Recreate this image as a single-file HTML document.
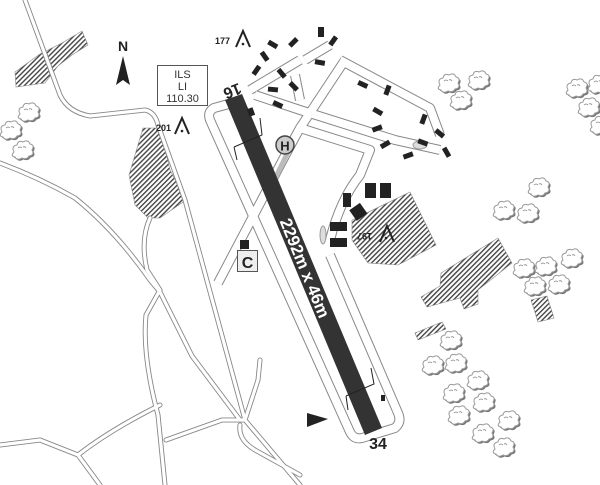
<!DOCTYPE html>
<html><head><meta charset="utf-8"><style>
html,body{margin:0;padding:0;background:#fff;}
svg{display:block;font-family:"Liberation Sans",sans-serif;}
</style></head><body>
<svg width="600" height="485" viewBox="0 0 600 485" xmlns="http://www.w3.org/2000/svg">
<defs>
<pattern id="h" width="3.5" height="3.5" patternUnits="userSpaceOnUse" patternTransform="rotate(45)">
<rect width="3.5" height="3.5" fill="#fff"/><rect width="1.4" height="3.5" fill="#444"/></pattern>
<g id="t">
<path d="M-8,2 q-3,-6 3,-7 q1,-5 6,-3 q5,-3 7,2 q5,1 2,6 q3,5 -3,6 q-2,4 -7,2 q-5,3 -7,-1 q-5,-1 -1,-5z" fill="#777" transform="translate(1.5,1.5)"/>
<path d="M-8,2 q-3,-6 3,-7 q1,-5 6,-3 q5,-3 7,2 q5,1 2,6 q3,5 -3,6 q-2,4 -7,2 q-5,3 -7,-1 q-5,-1 -1,-5z" fill="#fff" stroke="#999" stroke-width="1"/>
<path d="M-4,-2 q2,-2 4,0 M1,-3 q2,-1 3,1" fill="none" stroke="#888" stroke-width="0.8"/>
</g>
</defs>

<g stroke="#888" stroke-width="0.6">
<polygon points="15,72 16,87 45,83 58,66 72,55 88,45 82,31 62,43 40,54" fill="url(#h)"/>
<polygon points="143,128 160,128 170,170 186,200 160,218 148,218 135,205 129,175" fill="url(#h)"/>
<polygon points="352,220 410,192 436,245 398,265 368,263 352,240" fill="url(#h)"/>
<polygon points="421,297 440,286 441,273 498,238 512,263 478,290 478,304 464,309 460,298 427,307" fill="url(#h)"/>
<polygon points="531,300 547,296 554,318 538,322" fill="url(#h)"/>
<polygon points="415,333 442,322 446,329 418,340" fill="url(#h)"/>
</g>

<g fill="none" stroke-linejoin="round" stroke-linecap="round">
<g stroke="#888" stroke-width="5">
<path d="M25,0 L60,95 Q68,112 90,116 L145,110 Q155,112 158,125 L185,200 L245,420 L300,485"/>
<path d="M0,163 Q40,178 75,198 Q115,230 150,280 L160,292 L192,356 L240,420"/>
<path d="M150,218 Q140,240 147,270 L160,290 L146,315 Q142,355 158,415 L165,485"/>
<path d="M0,445 L40,440 L78,455 L100,485 M78,455 Q110,430 160,405 M166,440 L222,420 L245,420 L258,380 L260,360"/>
<path d="M240,425 Q238,440 255,450 L300,475"/>
</g>
<g stroke="#fff" stroke-width="3.2">
<path d="M25,0 L60,95 Q68,112 90,116 L145,110 Q155,112 158,125 L185,200 L245,420 L300,485"/>
<path d="M0,163 Q40,178 75,198 Q115,230 150,280 L160,292 L192,356 L240,420"/>
<path d="M150,218 Q140,240 147,270 L160,290 L146,315 Q142,355 158,415 L165,485"/>
<path d="M0,445 L40,440 L78,455 L100,485 M78,455 Q110,430 160,405 M166,440 L222,420 L245,420 L258,380 L260,360"/>
<path d="M240,425 Q238,440 255,450 L300,475"/>
</g>
</g>

<g fill="none" stroke-linejoin="round">
<g stroke="#888" stroke-width="10">
<path d="M236,102 L214,108 Q207,112 210,120 L350,432 Q354,440 362,438 L395,428 Q402,422 398,413 L330,255"/>
<path d="M218,283 L288,150 L300,128 L345,60 M250,90 L300,60 M255,95 L300,110 L395,140 L440,150 M300,128 L370,150 L360,175 Q340,200 330,240 M340,60 L430,108 L440,135 M305,60 L330,45 M300,100 L295,75"/>
</g>
<g stroke="#fff" stroke-width="8">
<path d="M236,102 L214,108 Q207,112 210,120 L350,432 Q354,440 362,438 L395,428 Q402,422 398,413 L330,255"/>
<path d="M218,283 L288,150 L300,128 L345,60 M250,90 L300,60 M255,95 L300,110 L395,140 L440,150 M300,128 L370,150 L360,175 Q340,200 330,240 M340,60 L430,108 L440,135 M305,60 L330,45 M300,100 L295,75"/>
</g>
</g>
<line x1="272" y1="185" x2="288" y2="152" stroke="#bbb" stroke-width="5"/>
<ellipse cx="420" cy="145" rx="7" ry="4" fill="#ddd" stroke="#999"/>
<ellipse cx="323" cy="235" rx="3" ry="9" fill="#ddd" stroke="#999"/>

<!-- runway -->
<polygon points="225,100 242,94 382,428 365,435" fill="#333"/>
<g transform="translate(305,268) rotate(67.8)">
<text x="0" y="6" font-size="17" font-weight="bold" fill="#ffffff" text-anchor="middle">2292m x 46m</text>
</g>
<text transform="translate(232,90) rotate(158)" font-size="16" font-weight="bold" fill="#222" text-anchor="middle" dominant-baseline="middle">16</text>
<text x="378" y="449" font-size="16" font-weight="bold" fill="#222" text-anchor="middle">34</text>

<g stroke="#222" stroke-width="1" fill="none">
<path d="M234,147 L262,135 L260,118 M234,147 L237,160 M346,396 L374,384 L371,368 M346,396 L348,410"/>
</g>
<polygon points="307,413 328,419 307,427" fill="#222"/>
<rect x="381" y="395" width="4" height="6" fill="#222"/>

<g fill="#222">
<rect x="318" y="27" width="6" height="10"/>
<rect x="288" y="40" width="10" height="5" transform="rotate(-45 293 42)"/>
<rect x="329" y="39" width="10" height="5" transform="rotate(-55 333 42)"/>
<rect x="268" y="42" width="10" height="5" transform="rotate(30 273 44)"/>
<rect x="260" y="54" width="10" height="5" transform="rotate(55 265 56)"/>
<rect x="315" y="60" width="10" height="5" transform="rotate(10 320 62)"/>
<rect x="251" y="68" width="10" height="5" transform="rotate(-55 256 70)"/>
<rect x="277" y="71" width="10" height="5" transform="rotate(50 282 73)"/>
<rect x="289" y="84" width="10" height="5" transform="rotate(45 294 86)"/>
<rect x="268" y="87" width="10" height="5" transform="rotate(5 273 89)"/>
<rect x="273" y="102" width="10" height="5" transform="rotate(25 278 104)"/>
<rect x="358" y="82" width="10" height="5" transform="rotate(25 363 84)"/>
<rect x="382" y="88" width="10" height="5" transform="rotate(-70 387 90)"/>
<rect x="373" y="109" width="10" height="5" transform="rotate(30 378 111)"/>
<rect x="372" y="126" width="10" height="5" transform="rotate(-20 377 128)"/>
<rect x="380" y="142" width="10" height="5" transform="rotate(-30 385 144)"/>
<rect x="418" y="117" width="10" height="5" transform="rotate(-70 423 119)"/>
<rect x="435" y="131" width="10" height="5" transform="rotate(40 440 133)"/>
<rect x="418" y="140" width="10" height="5" transform="rotate(20 423 142)"/>
<rect x="442" y="150" width="10" height="5" transform="rotate(60 447 152)"/>
<rect x="403" y="153" width="10" height="5" transform="rotate(-20 408 155)"/>
<rect x="365" y="183" width="11" height="15"/>
<rect x="380" y="183" width="11" height="15"/>
<rect x="343" y="193" width="8" height="14"/>
<rect x="352" y="205" width="13" height="13" transform="rotate(-35 359 212)"/>
<rect x="330" y="222" width="17" height="9"/>
<rect x="330" y="238" width="17" height="9"/>
<rect x="240" y="240" width="9" height="9"/>
<rect x="248" y="108" width="6" height="8" transform="rotate(-20 251 112)"/>
</g>

<rect x="237.5" y="250.5" width="20" height="21" fill="#eee" stroke="#555"/>
<text x="247.5" y="268" font-size="16" font-weight="bold" text-anchor="middle" fill="#222">C</text>
<circle cx="285" cy="145" r="9" fill="#ccc" stroke="#444" stroke-width="1.5"/>
<text x="285" y="150.5" font-size="13" font-weight="bold" text-anchor="middle" fill="#222">H</text>

<text x="123" y="51" font-size="14" font-weight="bold" text-anchor="middle" fill="#222">N</text>
<polygon points="123,56 130,85 123,80 116,85" fill="#222"/>

<rect x="157.5" y="65.5" width="50" height="40" fill="#fff" stroke="#555"/>
<g font-size="11" text-anchor="middle" fill="#333">
<text x="182.5" y="78">ILS</text><text x="182.5" y="90">LI</text><text x="182.5" y="102">110.30</text>
</g>

<g font-size="9" font-weight="bold" fill="#222">
<text x="215" y="44">177</text>
<text x="156" y="131">201</text>
<text transform="translate(372,233) rotate(180)">197</text>
</g>
<g fill="none" stroke="#222" stroke-width="2">
<path d="M236,47 L243,31 L250,47"/><path d="M175,134 L182,118 L189,134"/><path d="M380,242 L387,226 L394,242"/>
</g>
<g fill="#222"><circle cx="243" cy="44" r="1.3"/><circle cx="182" cy="131" r="1.3"/><circle cx="386" cy="238" r="1.3"/></g>

<g>
<use href="#t" x="28" y="112"/><use href="#t" x="10" y="130"/><use href="#t" x="22" y="150"/>
<use href="#t" x="448" y="83"/><use href="#t" x="478" y="80"/><use href="#t" x="460" y="100"/>
<use href="#t" x="576" y="88"/><use href="#t" x="598" y="84"/><use href="#t" x="588" y="107"/><use href="#t" x="600" y="125"/>
<use href="#t" x="538" y="187"/><use href="#t" x="503" y="210"/><use href="#t" x="527" y="213"/>
<use href="#t" x="523" y="268"/><use href="#t" x="545" y="266"/><use href="#t" x="571" y="258"/><use href="#t" x="534" y="286"/><use href="#t" x="558" y="284"/>
<use href="#t" x="450" y="340"/><use href="#t" x="432" y="365"/><use href="#t" x="455" y="363"/><use href="#t" x="477" y="380"/><use href="#t" x="453" y="393"/><use href="#t" x="483" y="402"/><use href="#t" x="458" y="415"/><use href="#t" x="508" y="420"/><use href="#t" x="482" y="433"/><use href="#t" x="503" y="447"/>
</g>
</svg>
</body></html>
